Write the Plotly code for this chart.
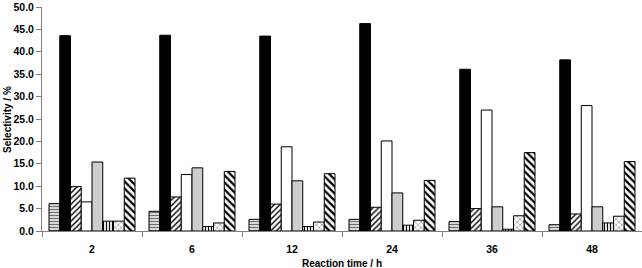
import plotly.graph_objects as go

times = ["2", "6", "12", "24", "36", "48"]
s1 = [6.1, 4.4, 2.6, 2.6, 2.1, 1.4]
s2 = [43.6, 43.7, 43.5, 46.3, 36.1, 38.2]
s3 = [9.9, 7.6, 6.0, 5.3, 5.0, 3.8]
s4 = [6.5, 12.6, 18.8, 20.1, 27.0, 28.0]
s5 = [15.4, 14.1, 11.2, 8.5, 5.4, 5.4]
s6 = [2.2, 1.0, 1.0, 1.3, 0.4, 1.8]
s7 = [2.2, 1.8, 2.0, 2.4, 3.4, 3.3]
s8 = [11.8, 13.3, 12.8, 11.3, 17.5, 15.5]
series_names = ["S1", "S2", "S3", "S4", "S5", "S6", "S7", "S8"]
y_ticks = [0, 5, 10, 15, 20, 25, 30, 35, 40, 45, 50]

patterns = [
    dict(shape="-", fgcolor="#707070", bgcolor="#d8d8d8", size=3, solidity=0.35, fillmode="replace"),
    dict(shape="", fgcolor="#000000", bgcolor="#000000"),
    dict(shape="/", fgcolor="#000000", bgcolor="#ffffff", size=4, solidity=0.35, fillmode="replace"),
    dict(shape="", fgcolor="#ffffff", bgcolor="#ffffff"),
    dict(shape=".", fgcolor="#b0b0b0", bgcolor="#e4e4e4", size=2, solidity=0.5, fillmode="replace"),
    dict(shape="|", fgcolor="#000000", bgcolor="#ffffff", size=3, solidity=0.4, fillmode="replace"),
    dict(shape="x", fgcolor="#909090", bgcolor="#ffffff", size=4, solidity=0.3, fillmode="replace"),
    dict(shape="\\", fgcolor="#000000", bgcolor="#ffffff", size=5, solidity=0.45, fillmode="replace"),
]
colors = ["#d8d8d8", "#000000", "#ffffff", "#ffffff", "#e4e4e4", "#ffffff", "#ffffff", "#ffffff"]

fig = go.Figure()
for name, vals, pat, col in zip(series_names, [s1, s2, s3, s4, s5, s6, s7, s8], patterns, colors):
    fig.add_trace(go.Bar(
        x=times, y=vals, name=name,
        marker=dict(color=col, pattern=pat, line=dict(color="#000000", width=1)),
    ))

font = "Liberation Sans"
fig.update_layout(
    width=642, height=268,
    margin=dict(l=42, r=0, t=7, b=37),
    barmode="group", bargap=0.14, bargroupgap=0,
    plot_bgcolor="white", paper_bgcolor="white",
    showlegend=False,
    font=dict(family=font, size=10, color="black"),
    xaxis=dict(
        type="category", tickson="boundaries", ticks="outside", ticklen=5,
        tickcolor="#808080", showline=True, linecolor="#808080", linewidth=1,
        showgrid=False, tickfont=dict(family=font, size=10.5, color="black", weight="bold"),
        ticklabelstandoff=8, automargin=False,
    ),
    yaxis=dict(
        range=[0, 50], tickvals=y_ticks, ticktext=[f"{v:.1f}" for v in y_ticks],
        ticks="outside", ticklen=5, tickcolor="#808080",
        showline=True, linecolor="#808080", linewidth=1, showgrid=False, zeroline=False,
        tickfont=dict(family=font, size=10.5, color="black", weight="bold"),
        automargin=False,
    ),
    annotations=[
        dict(text="Reaction time / h", xref="paper", yref="paper", x=0.5, y=-0.144,
             xanchor="center", yanchor="middle", showarrow=False,
             font=dict(family=font, size=10, color="black", weight="bold")),
        dict(text="Selectivity / %", xref="paper", yref="paper", x=-0.0585, y=0.5,
             xanchor="center", yanchor="middle", showarrow=False, textangle=-90,
             font=dict(family=font, size=10, color="black", weight="bold")),
    ],
)
fig.write_html("out.html", config={"displayModeBar": False},
               post_script="document.body.style.margin='0';")
